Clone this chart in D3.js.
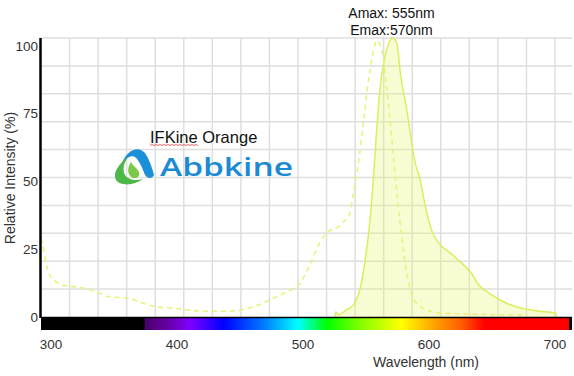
<!DOCTYPE html>
<html><head><meta charset="utf-8">
<script src="https://cdn.jsdelivr.net/npm/d3@7"></script>
<style>html,body{margin:0;padding:0;background:#fff;}svg{display:block;}</style>
</head><body>
<svg id="chart" width="574" height="376"></svg>
<script>
// ---- data ----
const absWl  = [292,294,296,299,304,312,322,331,337,345,355,363,371,383,398,412,425,437,450,463,476,488,497,506,514,520,527,533,537,540,541.5,543,547,551,555,558.5,562.5,566.5,570,573,577,581,586,590,595,606,620,633,655,675,676];
const absVal = [29,25,20,15.5,13,11.5,11,10,9,7.6,7.2,6.8,5.4,3.8,3.2,2.4,2.1,2.1,2.6,4.2,6.8,9.5,12,20,28,31.5,33,35.5,38,46,50,54,68,84,96,102,98.5,84,68,53,35,20,8.5,5,3.3,1.6,1.2,1.1,0.8,0.7,0];
const emWl   = [525.4,525.8,528,534,540,545,549,553,556,558,561,565,568,571,574.5,577,582.5,589,593,597,602,609,617,625,633,640,647,654,662,670,686,700,701.5];
const emVal  = [0,1.8,0.8,2.5,4.5,10,20,35,52,66,84,96,101,103,101,91,76,57,50.6,41,32,26.6,23.6,20.3,16.6,11.5,9,7,5,3.7,2.2,1.5,0];
const xTicks = [300,400,500,600,700];
const yTicks = [0,25,50,75,100];
const spectrumWl  = [292,374,374.5,395,410,437,470,496,519,545,578,605,625,644,711,711.5,714];
const spectrumCol = ["#000","#000","#4a0068","#6a00b0","#8000ff","#0000ff","#0080ff","#00ffff","#00ff00","#80ff00","#ffff00","#ffa000","#ff6000","#ff0000","#ff0000","#000","#000"];
const titleLines = ["Amax: 555nm","Emax:570nm"];
const dyeName = "IFKine Orange";
const brand = "Abbkine";

// ---- layout ----
const svg = d3.select("#chart");
const L = 41, R = 572, T = 38, B = 317;
const x = d3.scaleLinear().domain([292, 713.5]).range([L, R]);
const y = d3.scaleLinear().domain([0, 103]).range([B, T]);
const font = "'Liberation Sans', Arial, sans-serif";

svg.append("rect").attr("width",574).attr("height",376).attr("fill","#fff");

// grid
const g = svg.append("g");
const vGrid = d3.range(1,19).map(k => 292 + k*408/18);
g.selectAll("line.v").data(vGrid).enter().append("line")
  .attr("x1", d=>x(d)).attr("x2", d=>x(d)).attr("y1", T).attr("y2", B)
  .attr("stroke","#dedede").attr("stroke-width",1.5);
const hGrid = d3.range(1,11).map(k => k*103/10);
g.selectAll("line.h").data(hGrid).enter().append("line")
  .attr("x1", L).attr("x2", R).attr("y1", d=>y(d)).attr("y2", d=>y(d))
  .attr("stroke","#dedede").attr("stroke-width",1.5);

// emission (filled)
const em = emWl.map((w,i)=>[w, emVal[i]]);
svg.append("path").datum(em)
  .attr("d", d3.area().x(d=>x(d[0])).y0(y(0)).y1(d=>y(d[1])).curve(d3.curveMonotoneX))
  .attr("fill","#e8f46a").attr("fill-opacity",0.3);
svg.append("path").datum(em)
  .attr("d", d3.line().x(d=>x(d[0])).y(d=>y(d[1])).curve(d3.curveMonotoneX))
  .attr("fill","none").attr("stroke","#dcee5c").attr("stroke-width",1.5);

// absorption (dashed)
const ab = absWl.map((w,i)=>[w, absVal[i]]);
svg.append("path").datum(ab)
  .attr("d", d3.line().x(d=>x(d[0])).y(d=>y(d[1])).curve(d3.curveMonotoneX))
  .attr("fill","none").attr("stroke","#e8f37a").attr("stroke-width",1.6)
  .attr("stroke-dasharray","5,4");

// spectrum bar
const defs = svg.append("defs");
const grad = defs.append("linearGradient").attr("id","spec")
  .attr("gradientUnits","userSpaceOnUse").attr("x1",L).attr("x2",R).attr("y1",0).attr("y2",0);
spectrumWl.forEach((w,i)=>{
  grad.append("stop").attr("offset", Math.max(0,Math.min(1,(x(w)-L)/(R-L)))).attr("stop-color", spectrumCol[i]);
});
svg.append("rect").attr("x",L).attr("y",B).attr("width",R-L).attr("height",13).attr("fill","url(#spec)");
svg.append("line").attr("x1",L).attr("x2",R).attr("y1",B+0.5).attr("y2",B+0.5).attr("stroke","#000").attr("stroke-width",1.5);

// y axis line
svg.append("line").attr("x1",40.5).attr("x2",40.5).attr("y1",T).attr("y2",B+1).attr("stroke","#000").attr("stroke-width",2.5);

// tick labels
svg.selectAll("text.yt").data(yTicks).enter().append("text")
  .attr("x",38).attr("y",d=>y(d)+4.5).attr("text-anchor","end")
  .attr("font-family",font).attr("font-size",13.5).attr("fill","#333").text(d=>d);
svg.selectAll("text.xt").data(xTicks).enter().append("text")
  .attr("x",d=>x(d)).attr("y",349).attr("text-anchor","middle")
  .attr("font-family",font).attr("font-size",13.5).attr("fill","#333").text(d=>d);

// axis titles
svg.append("text").attr("transform","translate(15,178) rotate(-90)").attr("text-anchor","middle")
  .attr("font-family",font).attr("font-size",14).attr("fill","#333").text("Relative Intensity (%)");
svg.append("text").attr("x",426).attr("y",367).attr("text-anchor","middle")
  .attr("font-family",font).attr("font-size",14).attr("fill","#333").text("Wavelength (nm)");

// title
titleLines.forEach((t,i)=>{
  svg.append("text").attr("x",391.5).attr("y",18+i*17).attr("text-anchor","middle")
    .attr("font-family",font).attr("font-size",14).attr("fill","#111").text(t);
});

// dye name with spell-check squiggle
svg.append("text").attr("x",150).attr("y",143).attr("font-family",font).attr("font-size",16.5).attr("fill","#111").text(dyeName);
let sq = "M150,145.5";
for (let i=0;i<24;i++){ sq += ` l1,${i%2?1:-1}`; }
svg.append("path").attr("d", sq.replace(/l1,/g,"l2,")).attr("fill","none").attr("stroke","#e04040").attr("stroke-width",0.8);

// logo
const logo = svg.append("g");
logo.append("path").attr("d","M122,163 C127,150 138,145 145,153 C149,159 152,167 154,175 C152,179 148,179 145,175 C142,167 139,160 135,157 C131,155 127,158 122,163 Z").attr("fill","#1b8fd8");
logo.append("path").attr("d","M129,156 C120,163 112,172 116,180 C120,186 134,186 143,179 C136,181 128,180 125,175 C122,169 124,162 129,156 Z").attr("fill","#4db848");
logo.append("path").attr("d","M131,162 C127,168 127,175 133,178 C137,179 140,176 139,172 C137,168 133,166 131,162 Z").attr("fill","#7cc84a");
logo.append("text").attr("x",160).attr("y",176).attr("font-family","'Open Sans', sans-serif").attr("font-weight",600)
  .attr("font-size",26).attr("fill","#1b8ad4").attr("textLength",133).attr("lengthAdjust","spacingAndGlyphs").text(brand);
</script>
</body></html>
